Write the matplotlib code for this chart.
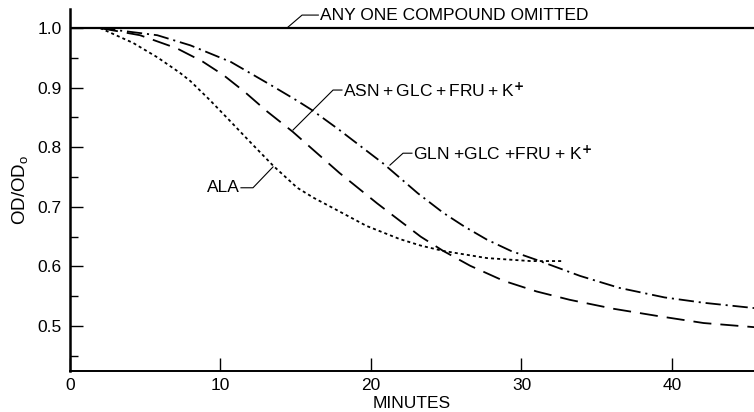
import matplotlib
matplotlib.use("Agg")
import matplotlib.pyplot as plt

plt.rcParams['font.family'] = ['Liberation Sans', 'DejaVu Sans']
plt.rcParams['mathtext.fontset'] = 'custom'
plt.rcParams['mathtext.rm'] = 'Liberation Sans'
plt.rcParams['mathtext.it'] = 'Liberation Sans'
plt.rcParams['lines.scale_dashes'] = False

# ---- data ----
omit_t = [0.0, 45.5]
omit_v = [1.0, 1.0]

ala_t = [2.0, 4.2, 5.8, 7.3, 8.0, 9.3, 10.6, 12.0, 13.5, 15.1, 16.2, 17.4, 19.7, 21.9, 23.3, 24.8, 27.7, 30.6, 32.8]
ala_v = [1.0, 0.975, 0.951, 0.925, 0.911, 0.879, 0.845, 0.808, 0.769, 0.732, 0.715, 0.699, 0.668, 0.646, 0.635, 0.626, 0.614, 0.609, 0.609]

asn_t = [2.0, 4.65, 7.1, 8.8, 10.2, 11.6, 13.1, 14.8, 16.1, 17.9, 20.4, 21.9, 23.3, 24.8, 26.6, 28.8, 31.0, 33.2, 36.1, 39.0, 42.1, 45.5]
asn_v = [1.0, 0.988, 0.966, 0.944, 0.921, 0.893, 0.860, 0.826, 0.797, 0.757, 0.706, 0.677, 0.650, 0.626, 0.601, 0.576, 0.558, 0.544, 0.529, 0.517, 0.505, 0.498]

gln_t = [2.0, 5.8, 8.0, 10.7, 13.3, 15.1, 16.1, 17.9, 19.4, 20.8, 23.1, 24.8, 26.2, 27.7, 29.3, 31.0, 33.9, 36.5, 39.5, 42.1, 45.5]
gln_v = [1.0, 0.988, 0.971, 0.943, 0.905, 0.878, 0.862, 0.829, 0.800, 0.773, 0.723, 0.690, 0.667, 0.645, 0.626, 0.611, 0.584, 0.564, 0.548, 0.539, 0.530]

x_ticks = [0, 10, 20, 30, 40]
x_ticklabels = ["0", "10", "20", "30", "40"]
y_ticks = [0.5, 0.6, 0.7, 0.8, 0.9, 1.0]
y_ticklabels = ["0.5", "0.6", "0.7", "0.8", "0.9", "1.0"]
y_minor = [0.45, 0.55, 0.65, 0.75, 0.85, 0.95]

labels = ["ANY ONE COMPOUND OMITTED",
          "ASN\u2009+\u2009GLC\u2009+\u2009FRU\u2009+\u2009K$^{\\mathbf{+}}$",
          "GLN +GLC +FRU + K$^{\\mathbf{+}}$",
          "ALA"]

# ---- figure ----
fig = plt.figure(figsize=(7.54, 4.12), dpi=100)
ax = fig.add_axes([70/754, 1 - 371/412, 1 - 70/754, (371 - 9)/412])

ax.plot(omit_t, omit_v, color='black', lw=1.6, solid_capstyle='butt')
ax.plot(ala_t, ala_v, color='black', lw=1.3, linestyle=(0, (2.2, 2.2)))
ax.plot(asn_t, asn_v, color='black', lw=1.3, linestyle=(0, (13, 6.5)))
ax.plot(gln_t, gln_v, color='black', lw=1.3, linestyle=(0, (11, 3.5, 1.5, 3.5)))

ax.set_xlim(0, 45.45)
ax.set_ylim(0.4245, 1.032)

ax.set_xticks(x_ticks)
ax.set_xticklabels(x_ticklabels)
ax.set_yticks(y_ticks)
ax.set_yticklabels(y_ticklabels)
ax.set_yticks(y_minor, minor=True)

ax.tick_params(axis='both', which='major', direction='in', length=9.5, width=1.0,
               labelsize=12.5, color='black')
ax.tick_params(axis='x', which='major', pad=5)
ax.tick_params(axis='y', which='major', pad=6)
ax.tick_params(axis='y', which='minor', direction='in', length=6, width=1.0)

for s in ['top', 'right']:
    ax.spines[s].set_visible(False)
ax.spines['left'].set_linewidth(1.8)
ax.spines['bottom'].set_linewidth(1.4)

ax.set_xlabel("MINUTES", fontsize=12.5, labelpad=2)
ax.set_ylabel(r"OD/OD$_\mathregular{o}$", fontsize=13.5, labelpad=5)

# ---- annotations ----
fs = 12.5
ax.plot([14.49, 15.42, 16.5], [1.0017, 1.0218, 1.0218], color='black', lw=0.8)
ax.text(16.6, 1.0218, labels[0], fontsize=fs, ha='left', va='center')

ax.plot([14.82, 17.48, 18.07], [0.829, 0.896, 0.896], color='black', lw=0.8)
ax.text(18.14, 0.896, labels[1], fontsize=fs, ha='left', va='center')

ax.plot([21.26, 22.13, 22.72], [0.770, 0.790, 0.790], color='black', lw=0.8)
ax.text(22.79, 0.790, labels[2], fontsize=fs, ha='left', va='center')

ax.plot([11.36, 12.16, 13.49], [0.732, 0.732, 0.767], color='black', lw=0.8)
ax.text(11.3, 0.732, labels[3], fontsize=fs, ha='right', va='center')

fig.savefig("out.png", dpi=100)
